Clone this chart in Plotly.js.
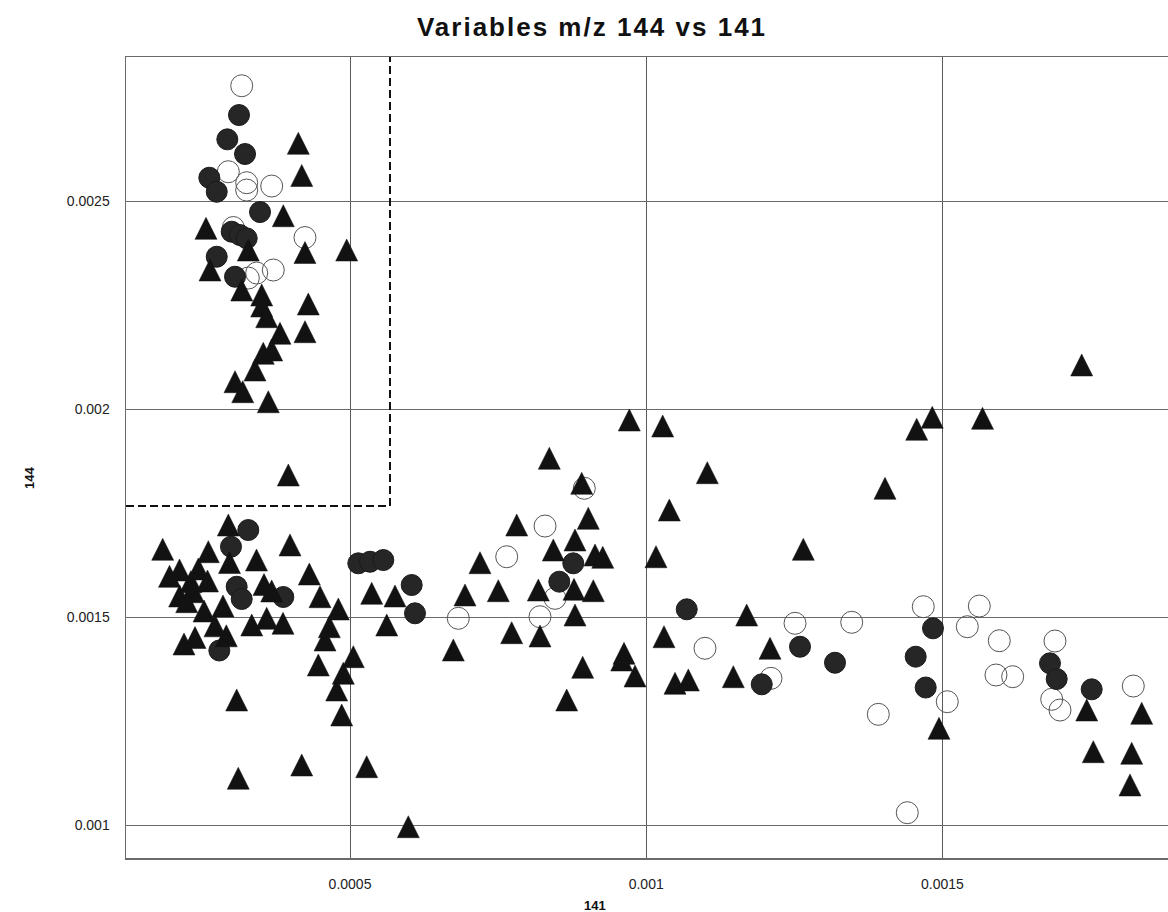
<!DOCTYPE html>
<html>
<head>
<meta charset="utf-8">
<script src="https://cdn.plot.ly/plotly-3.0.1.min.js"></script>
<style>
html,body{margin:0;padding:0;background:#fff;}
#chart{width:1168px;height:912px;}
.gtitle{letter-spacing:2px;}
</style>
</head>
<body>
<div id="chart"></div>
<script>
// ---- data (m/z 141 on x, m/z 144 on y) ----
var openX = [0.0003172,0.0002946,0.0003256,0.0003256,0.0003678,0.0003030,0.0004240,0.0003425,0.0003705,0.0003283,
  0.0008955,0.0008292,0.0007645,0.0008460,0.0006828,0.0008207,0.0010992,0.0012512,0.0013469,0.0012106,0.0013918,
  0.0014677,0.0015623,0.0015420,0.0015960,0.0015082,0.0015904,0.0016186,0.0016900,0.0016845,0.0016985,0.0018222,0.0014407];
var openY = [0.0027771,0.0025704,0.0025440,0.0025264,0.0025360,0.0024363,0.0024122,0.0023269,0.0023341,0.0023149,
  0.0018094,0.0017187,0.0016449,0.0015449,0.0014969,0.0015007,0.0014248,0.0014849,0.0014873,0.0013526,0.0012661,
  0.0015248,0.0015264,0.0014767,0.0014430,0.0012964,0.0013606,0.0013565,0.0014423,0.0013022,0.0012764,0.0013341,0.0010296];

var filledX = [0.0003126,0.0002929,0.0003228,0.0002625,0.0002750,0.0003481,0.0003003,0.0003143,0.0003256,0.0002750,0.0003059,
  0.0003283,0.0002991,0.0003087,0.0003172,0.0003874,0.0002794,0.0005140,0.0005338,0.0005562,0.0006041,0.0006097,
  0.0008769,0.0008533,0.0010684,0.0012596,0.0013187,0.0011950,0.0014841,0.0014549,0.0014718,0.0016816,0.0016929,0.0017520];
var filledY = [0.0027067,0.0026483,0.0026130,0.0025560,0.0025223,0.0024735,0.0024262,0.0024182,0.0024103,0.0023661,0.0023180,
  0.0017091,0.0016690,0.0015728,0.0015433,0.0015481,0.0014195,0.0016291,0.0016329,0.0016370,0.0015769,0.0015089,
  0.0016291,0.0015849,0.0015185,0.0014286,0.0013901,0.0013382,0.0014728,0.0014046,0.0013305,0.0013887,0.0013510,0.0013262];

var triX = [0.0004127,0.0004185,0.0003874,0.0002569,0.0003283,0.0004240,0.0004944,0.0002637,0.0003172,0.0003509,0.0004296,
  0.0003509,0.0003594,0.0004240,0.0003818,0.0003536,0.0003678,0.0003396,0.0003059,0.0003189,0.0003621,0.0003959,
  0.0002946,0.0001838,0.0002608,0.0003987,0.0003422,0.0002966,0.0001953,0.0002122,0.0002439,0.0004313,0.0002595,
  0.0002313,0.0003548,0.0003678,0.0002124,0.0002355,0.0002243,0.0002856,0.0002536,0.0004494,0.0004803,0.0003341,
  0.0003594,0.0003869,0.0002721,0.0002912,0.0002384,0.0002198,0.0004651,0.0004578,0.0005056,0.0004465,0.0004887,
  0.0004775,0.0004860,0.0003087,0.0004185,0.0005282,0.0003114,0.0005984,0.0005366,0.0005760,0.0005620,
  0.0009715,0.0010278,0.0011031,0.0008364,0.0008911,0.0010390,0.0007814,0.0009022,0.0008798,0.0008432,0.0009136,
  0.0009266,0.0010165,0.0007194,0.0006941,0.0007503,0.0008179,0.0008781,0.0009107,0.0008798,0.0007729,0.0008207,
  0.0006744,0.0008928,0.0008658,0.0009625,0.0009586,0.0009811,0.0010300,0.0010486,0.0010711,0.0011470,0.0011696,
  0.0012090,0.0012652,0.0014031,0.0014566,0.0014829,0.0015677,0.0017351,0.0014942,0.0017436,0.0018364,0.0017547,
  0.0018195,0.0018166];
var triY = [0.0026387,0.0025613,0.0024646,0.0024343,0.0023822,0.0023762,0.0023822,0.0023341,0.0022860,0.0022740,0.0022524,
  0.0022476,0.0022219,0.0021858,0.0021820,0.0021339,0.0021418,0.0020937,0.0020656,0.0020416,0.0020175,0.0018413,
  0.0017211,0.0016627,0.0016570,0.0016731,0.0016370,0.0016310,0.0015978,0.0016130,0.0016154,0.0016034,0.0015865,
  0.0015849,0.0015781,0.0015625,0.0015505,0.0015608,0.0015368,0.0015264,0.0015144,0.0015488,0.0015192,0.0014808,
  0.0014969,0.0014849,0.0014788,0.0014548,0.0014507,0.0014351,0.0014767,0.0014447,0.0014046,0.0013846,0.0013647,
  0.0013245,0.0012644,0.0013005,0.0011442,0.0011401,0.0011123,0.0009959,0.0015570,0.0015505,0.0014808,
  0.0019735,0.0019591,0.0018469,0.0018815,0.0018214,0.0017572,0.0017211,0.0017372,0.0016851,0.0016610,0.0016490,
  0.0016435,0.0016449,0.0016305,0.0015529,0.0015632,0.0015649,0.0015666,0.0015632,0.0015048,0.0014623,0.0014543,
  0.0014207,0.0013791,0.0013005,0.0014127,0.0013966,0.0013582,0.0014526,0.0013406,0.0013486,0.0013565,0.0015048,
  0.0014248,0.0016627,0.0018094,0.0019512,0.0019800,0.0019776,0.0021058,0.0012324,0.0012764,0.0012685,0.0011762,
  0.0011724,0.0010962];

// selection box (dashed) upper limit on 141 and lower limit on 144
var boxX = 0.0005675;
var boxY = 0.001767;

// tick labels
var xTickVals = [0.0005, 0.001, 0.0015];
var xTickText = ['0.0005', '0.001', '0.0015'];
var yTickVals = [0.001, 0.0015, 0.002, 0.0025];
var yTickText = ['0.001', '0.0015', '0.002', '0.0025'];

// ---- layout ----
var W = 1168, H = 912;
var mL = 126, mR = 0, mT = 57, mB = 54;
var xRange = [0.00012187, 0.0018808];
var yRange = [0.0009207, 0.0028462];
var triSize = 22;
var plotH = H - mT - mB;
// arrow-up marker has its tip on the point; shift the overlay axis so the triangle is centred on the point
var dY = (triSize / 2) * (yRange[1] - yRange[0]) / plotH;

var tickFont = {family: 'Liberation Sans, Arial, sans-serif', size: 14, color: '#222'};

var traces = [
  {x: openX, y: openY, type: 'scatter', mode: 'markers', name: 'open', xaxis: 'x', yaxis: 'y',
   marker: {symbol: 'circle-open', size: 22, color: '#555', line: {width: 1, color: '#555'}}},
  {x: filledX, y: filledY, type: 'scatter', mode: 'markers', name: 'filled', xaxis: 'x', yaxis: 'y',
   marker: {symbol: 'circle', size: 21, color: '#262626', line: {width: 1, color: '#1a1a1a'}}},
  {x: triX, y: triY, type: 'scatter', mode: 'markers', name: 'triangle', xaxis: 'x', yaxis: 'y2',
   marker: {symbol: 'arrow-up', size: triSize, color: '#121212', line: {width: 0.5, color: '#121212'}}}
];

var layout = {
  width: W, height: H,
  margin: {l: mL, r: mR, t: mT, b: mB, pad: 0},
  paper_bgcolor: '#fff', plot_bgcolor: '#fff',
  showlegend: false,
  title: {text: '<b>Variables m/z 144 vs 141</b>', font: {family: 'Liberation Sans, Arial, sans-serif', size: 26, color: '#111'},
          x: 592 / W, xref: 'container', xanchor: 'center', y: 1 - 27 / H, yref: 'container', yanchor: 'middle'},
  xaxis: {range: xRange, tickvals: xTickVals, ticktext: xTickText, tickfont: tickFont,
          showgrid: true, gridcolor: '#5a5a5a', gridwidth: 1, zeroline: false,
          showline: true, linecolor: '#6a6a6a', linewidth: 1.5, mirror: true, ticks: '', ticklabelstandoff: 13},
  yaxis: {range: yRange, tickvals: yTickVals, ticktext: yTickText, tickfont: tickFont,
          showgrid: true, gridcolor: '#6a6a6a', gridwidth: 1, zeroline: false,
          showline: true, linecolor: '#6a6a6a', linewidth: 1.5, mirror: false, ticks: '', ticklabelstandoff: 12},
  yaxis2: {range: [yRange[0] - dY, yRange[1] - dY], overlaying: 'y', visible: false, showgrid: false, zeroline: false},
  shapes: [
    {type: 'line', xref: 'x', yref: 'y', x0: boxX, x1: boxX, y0: boxY, y1: yRange[1],
     line: {color: '#111', width: 2, dash: '8px,4px'}},
    {type: 'line', xref: 'x', yref: 'y', x0: xRange[0], x1: boxX, y0: boxY, y1: boxY,
     line: {color: '#111', width: 2, dash: '8px,4px'}}
  ],
  annotations: [
    {text: '<b>141</b>', xref: 'paper', yref: 'paper', x: (595 - mL) / (W - mL - mR), y: -(906 - (H - mB)) / plotH,
     xanchor: 'center', yanchor: 'middle', showarrow: false, font: {family: 'Liberation Sans, Arial, sans-serif', size: 13, color: '#111'}},
    {text: '<b>144</b>', xref: 'paper', yref: 'paper', x: (30 - mL) / (W - mL - mR), y: ((H - mB) - 478) / plotH,
     xanchor: 'center', yanchor: 'middle', textangle: -90, showarrow: false, font: {family: 'Liberation Sans, Arial, sans-serif', size: 13, color: '#111'}}
  ]
};

Plotly.newPlot('chart', traces, layout, {displayModeBar: false, staticPlot: true});
</script>
</body>
</html>
